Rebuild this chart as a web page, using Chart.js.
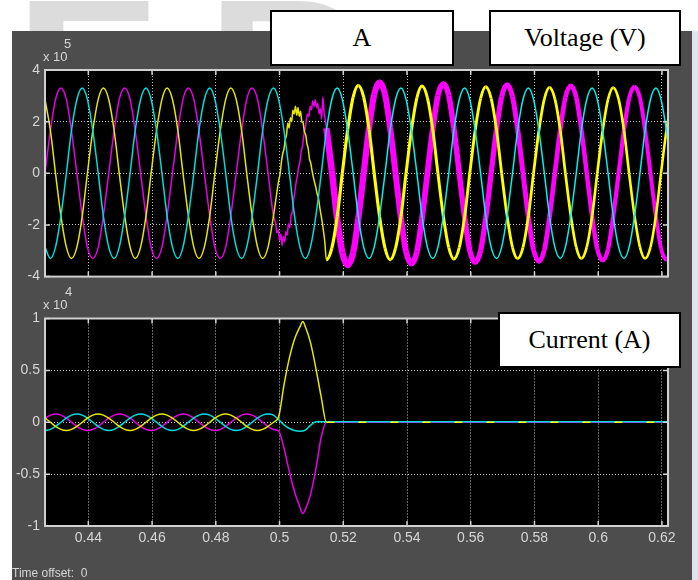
<!DOCTYPE html>
<html>
<head>
<meta charset="utf-8">
<script src="https://cdn.jsdelivr.net/npm/chart.js@4.4.1/dist/chart.umd.min.js"></script>
<style>
  html, body { margin: 0; padding: 0; background: #fff; }
  #page { position: relative; width: 698px; height: 580px; overflow: hidden; background: #fff; }
  .mark { position: absolute; font-family: "Liberation Sans", Arial, sans-serif; font-weight: bold; font-size: 180px; line-height: 1; color: #dcdcdc; transform-origin: left top; }
  #scope { position: absolute; left: 12px; top: 31px; width: 680px; height: 549px; background: #4d4d4d; }
  #edge { position: absolute; left: 692px; top: 31px; width: 6px; height: 549px; background: #dde4ec; }
  canvas { position: absolute; left: 12px; }
  .txt { position: absolute; color: #d6d6d6; font-family: "Liberation Sans Narrow", "Liberation Sans", sans-serif; white-space: nowrap; line-height: 1; }
  .box { position: absolute; background: #fff; border: 2px solid #000; box-sizing: border-box; font-family: "Liberation Serif", serif; font-size: 26px; color: #000; display: flex; align-items: center; justify-content: center; }
</style>
</head>
<body>
<div id="page">
  <div class="mark" style="left:14px; top:-27px; transform: scaleX(1.3);">F</div>
  <div class="mark" style="left:207px; top:-27px; transform: scaleX(1.2);">R</div>
  <div id="scope"></div>
  <div id="edge"></div>
  <canvas id="voltage" width="680" height="259" style="top:31px;"></canvas>
  <canvas id="current" width="680" height="290" style="top:290px;"></canvas>
  <div class="txt" style="left:43px; top:50px; font-size:13px;">x 10</div>
  <div class="txt" style="left:64px; top:37px; font-size:13px;">5</div>
  <div class="txt" style="left:43px; top:298px; font-size:13px;">x 10</div>
  <div class="txt" style="left:65px; top:285px; font-size:13px;">4</div>
  <div class="txt" style="left:12px; top:567px; font-size:12px;">Time offset:&nbsp; 0</div>
  <div class="box" style="left:270px; top:10px; width:184px; height:56px;">A</div>
  <div class="box" style="left:489px; top:10px; width:192px; height:56px;">Voltage (V)</div>
  <div class="box" style="left:498px; top:312px; width:183px; height:56px;">Current (A)</div>
</div>
<script>
// time axis (s)
const X_MIN = 0.4264;
const X_MAX = 0.6219;
const FAULT_END = 0.5145;

// sample times, 12 per 50 Hz cycle
const timeV = [
  0.4264, 0.4281, 0.4297, 0.4314, 0.4331, 0.4347, 0.4364, 0.4381, 0.4397, 0.4414, 0.4431, 0.4447,
  0.4464, 0.4481, 0.4497, 0.4514, 0.4531, 0.4547, 0.4564, 0.4581, 0.4597, 0.4614, 0.4631, 0.4647,
  0.4664, 0.4681, 0.4697, 0.4714, 0.4731, 0.4747, 0.4764, 0.4781, 0.4797, 0.4814, 0.4831, 0.4847,
  0.4864, 0.4881, 0.4897, 0.4914, 0.4931, 0.4947, 0.4964, 0.4981, 0.4997, 0.5014, 0.5031, 0.5047,
  0.5064, 0.5081, 0.5097, 0.5114, 0.5131, 0.5147, 0.5164, 0.5181, 0.5197, 0.5214, 0.5231, 0.5247,
  0.5264, 0.5281, 0.5297, 0.5314, 0.5331, 0.5347, 0.5364, 0.5381, 0.5397, 0.5414, 0.5431, 0.5447,
  0.5464, 0.5481, 0.5497, 0.5514, 0.5531, 0.5547, 0.5564, 0.5581, 0.5597, 0.5614, 0.5631, 0.5647,
  0.5664, 0.5681, 0.5697, 0.5714, 0.5731, 0.5747, 0.5764, 0.5781, 0.5797, 0.5814, 0.5831, 0.5847,
  0.5864, 0.5881, 0.5897, 0.5914, 0.5931, 0.5947, 0.5964, 0.5981, 0.5997, 0.6014, 0.6031, 0.6047,
  0.6064, 0.6081, 0.6097, 0.6114, 0.6131, 0.6147, 0.6164, 0.6181, 0.6197, 0.6214, 0.6231
];

// voltages (x1e5 V); null = replaced by the fault samples below
const voltA = [ // yellow
  2.86, 1.65, 0, -1.65, -2.86, -3.3, -2.86, -1.65, 0, 1.65, 2.86, 3.3,
  2.86, 1.65, 0, -1.65, -2.86, -3.3, -2.86, -1.65, 0, 1.65, 2.86, 3.3,
  2.86, 1.65, 0, -1.65, -2.86, -3.3, -2.86, -1.65, 0, 1.65, 2.86, 3.3,
  2.86, 1.65, 0, -1.65, -2.86, -3.3, -2.86, -1.65, null, null, null, null,
  null, null, null, null, null, -3.35, -2.9, -1.68, 0, 1.7, 2.95, 3.4,
  2.95, 1.7, 0, -1.68, -2.9, -3.35, -2.9, -1.68, 0, 1.68, 2.92, 3.38,
  2.92, 1.68, 0, -1.66, -2.88, -3.32, -2.88, -1.66, 0, 1.67, 2.9, 3.35,
  2.9, 1.67, 0, -1.65, -2.87, -3.3, -2.87, -1.65, 0, 1.66, 2.88, 3.33,
  2.88, 1.66, 0, -1.65, -2.86, -3.3, -2.86, -1.65, 0, 1.65, 2.87, 3.32,
  2.87, 1.65, 0, -1.65, -2.86, -3.3, -2.86, -1.65, 0, 1.65, 2.86
];
const voltB = [ // magenta
  0, 1.65, 2.86, 3.3, 2.86, 1.65, 0, -1.65, -2.86, -3.3, -2.86, -1.65,
  0, 1.65, 2.86, 3.3, 2.86, 1.65, 0, -1.65, -2.86, -3.3, -2.86, -1.65,
  0, 1.65, 2.86, 3.3, 2.86, 1.65, 0, -1.65, -2.86, -3.3, -2.86, -1.65,
  0, 1.65, 2.86, 3.3, 2.86, 1.65, 0, -1.65, null, null, null, null,
  null, null, null, null, null, 1.75, 0.1, -1.77, -3.07, -3.55, -3.07, -1.77,
  0, 1.76, 3.05, 3.52, 3.05, 1.76, 0, -1.75, -3.03, -3.5, -3.03, -1.75,
  0, 1.74, 3.01, 3.47, 3.01, 1.74, 0, -1.73, -2.99, -3.45, -2.99, -1.73,
  0, 1.72, 2.97, 3.43, 2.97, 1.72, 0, -1.71, -2.96, -3.41, -2.96, -1.71,
  0, 1.7, 2.94, 3.39, 2.94, 1.7, 0, -1.69, -2.93, -3.37, -2.93, -1.69,
  0, 1.68, 2.91, 3.35, 2.91, 1.68, 0, -1.67, -2.9, -3.34, -2.9
];
const voltC = [ // cyan
  -2.86, -3.3, -2.86, -1.65, 0, 1.65, 2.86, 3.3, 2.86, 1.65, 0, -1.65,
  -2.86, -3.3, -2.86, -1.65, 0, 1.65, 2.86, 3.3, 2.86, 1.65, 0, -1.65,
  -2.86, -3.3, -2.86, -1.65, 0, 1.65, 2.86, 3.3, 2.86, 1.65, 0, -1.65,
  -2.86, -3.3, -2.86, -1.65, 0, 1.65, 2.86, 3.3, 2.86, 1.65, 0, -1.65,
  -2.86, -3.3, -2.86, -1.65, 0, 1.65, 2.86, 3.3, 2.86, 1.65, 0, -1.65,
  -2.86, -3.3, -2.86, -1.65, 0, 1.65, 2.86, 3.3, 2.86, 1.65, 0, -1.65,
  -2.86, -3.3, -2.86, -1.65, 0, 1.65, 2.86, 3.3, 2.86, 1.65, 0, -1.65,
  -2.86, -3.3, -2.86, -1.65, 0, 1.65, 2.86, 3.3, 2.86, 1.65, 0, -1.65,
  -2.86, -3.3, -2.86, -1.65, 0, 1.65, 2.86, 3.3, 2.86, 1.65, 0, -1.65,
  -2.86, -3.3, -2.86, -1.65, 0, 1.65, 2.86, 3.3, 2.86, 1.65, 0
];

// noisy stretch during the fault
const faultTimeA = [
  0.4997, 0.5002, 0.5006, 0.5010, 0.5014, 0.5018, 0.5022, 0.5026, 0.5030, 0.5034, 0.5038, 0.5042, 0.5046,
  0.5050, 0.5054, 0.5058, 0.5062, 0.5066, 0.5070, 0.5074, 0.5078, 0.5082, 0.5086, 0.5090, 0.5094, 0.5098,
  0.5102, 0.5106, 0.5110, 0.5114, 0.5118, 0.5122, 0.5126, 0.5130, 0.5134, 0.5138, 0.5142
];
const faultVoltA = [
  -0.3, 0.0, 0.45, 0.75, 0.95, 1.3, 1.5, 1.95, 1.75, 2.15, 2.0, 2.45, 2.3,
  2.6, 2.25, 2.55, 2.2, 2.4, 2.0, 1.95, 1.6, 1.5, 1.15, 0.95, 0.55, 0.4,
  0.1, -0.15, -0.35, -0.55, -0.8, -0.95, -1.3, -1.6, -1.9, -2.25, -2.65
];
const faultTimeB = [
  0.4988, 0.4992, 0.4996, 0.5000, 0.5004, 0.5008, 0.5012, 0.5016, 0.5020, 0.5024, 0.5028, 0.5032, 0.5036,
  0.5040, 0.5044, 0.5048, 0.5052, 0.5056, 0.5060, 0.5064, 0.5068, 0.5072, 0.5076, 0.5080, 0.5084, 0.5088,
  0.5092, 0.5096, 0.5100, 0.5104, 0.5108, 0.5112, 0.5116, 0.5120, 0.5124, 0.5128, 0.5132, 0.5136, 0.5140, 0.5144
];
const faultVoltB = [
  -1.95, -2.3, -2.2, -2.6, -2.35, -2.8, -2.45, -2.65, -2.25, -2.4, -1.95, -2.1, -1.65,
  -1.5, -1.05, -0.7, -0.35, -0.1, 0.25, 0.45, 0.85, 1.05, 1.45, 1.7, 2.05, 2.3,
  2.2, 2.6, 2.45, 2.8, 2.6, 2.85, 2.55, 2.7, 2.3, 2.5, 2.1, 2.95, 2.35, 2.05
];

// currents (x1e4 A), up to t = 0.5147, then flat to the end
const timeI = timeV.slice(0, 54).concat([0.6231]);
const curA = [ // yellow
  0.04, 0, -0.04, -0.069, -0.08, -0.069, -0.04, 0, 0.04, 0.069, 0.08, 0.069,
  0.04, 0, -0.04, -0.069, -0.08, -0.069, -0.04, 0, 0.04, 0.069, 0.08, 0.069,
  0.04, 0, -0.04, -0.069, -0.08, -0.069, -0.04, 0, 0.04, 0.069, 0.08, 0.069,
  0.04, 0, -0.04, -0.069, -0.08, -0.069, -0.04, 0, 0.05, 0.36, 0.62, 0.8,
  0.92, 0.92, 0.77, 0.52, 0.24, 0, 0
];
const curB = [ // magenta
  0.04, 0.069, 0.08, 0.069, 0.04, 0, -0.04, -0.069, -0.08, -0.069, -0.04, 0,
  0.04, 0.069, 0.08, 0.069, 0.04, 0, -0.04, -0.069, -0.08, -0.069, -0.04, 0,
  0.04, 0.069, 0.08, 0.069, 0.04, 0, -0.04, -0.069, -0.08, -0.069, -0.04, 0,
  0.04, 0.069, 0.08, 0.069, 0.04, 0, -0.04, -0.069, -0.085, -0.25, -0.48, -0.67,
  -0.82, -0.84, -0.7, -0.45, -0.14, 0, 0
];
const curC = [ // cyan
  -0.08, -0.069, -0.04, 0, 0.04, 0.069, 0.08, 0.069, 0.04, 0, -0.04, -0.069,
  -0.08, -0.069, -0.04, 0, 0.04, 0.069, 0.08, 0.069, 0.04, 0, -0.04, -0.069,
  -0.08, -0.069, -0.04, 0, 0.04, 0.069, 0.08, 0.069, 0.04, 0, -0.04, -0.069,
  -0.08, -0.069, -0.04, 0, 0.04, 0.069, 0.08, 0.069, 0.025, -0.025, -0.06, -0.08,
  -0.087, -0.075, -0.03, 0.005, 0.005, 0.005, 0.005
];
// tips of the fault current pulses
const spikeTime = [0.5073];
const spikeA = [0.97];
const spikeB = [-0.88];

const YELLOW = '#e6e600', MAGENTA = '#e600e6', CYAN = '#00dcdc';
const LABEL_FONT = { family: "'Liberation Sans Narrow', 'Liberation Sans', sans-serif", size: 14 };

const toPoints = (times, vals) =>
  times.map((t, i) => ({ x: t, y: vals[i] })).filter(p => p.y !== null);
const withFault = (base, extra) => base.concat(extra).sort((a, b) => a.x - b.x);
const fmt = v => String(+Number(v).toFixed(2));

// black plot area, solid frame and inward ticks like the scope
const scopeFrame = {
  id: 'scopeFrame',
  beforeDraw(chart) {
    const { ctx, chartArea: a } = chart;
    ctx.save();
    ctx.fillStyle = '#000';
    ctx.fillRect(a.left, a.top, a.right - a.left, a.bottom - a.top);
    ctx.restore();
  },
  afterDraw(chart) {
    const { ctx, chartArea: a, scales } = chart;
    ctx.save();
    ctx.strokeStyle = '#d0d0d0';
    ctx.lineWidth = 2;
    ctx.strokeRect(a.left, a.top, a.right - a.left, a.bottom - a.top);
    ctx.lineWidth = 1.5;
    ctx.beginPath();
    scales.x.ticks.forEach(t => {
      const px = scales.x.getPixelForValue(t.value);
      ctx.moveTo(px, a.bottom); ctx.lineTo(px, a.bottom - 5);
      ctx.moveTo(px, a.top); ctx.lineTo(px, a.top + 5);
    });
    scales.y.ticks.forEach(t => {
      const py = scales.y.getPixelForValue(t.value);
      ctx.moveTo(a.left, py); ctx.lineTo(a.left + 5, py);
      ctx.moveTo(a.right, py); ctx.lineTo(a.right - 5, py);
    });
    ctx.stroke();
    ctx.restore();
  }
};

function scopeOptions(yMin, yMax, yStep, padding, showX) {
  return {
    responsive: false,
    animation: false,
    devicePixelRatio: 1,
    layout: { padding },
    plugins: { legend: { display: false }, tooltip: { enabled: false } },
    elements: {
      point: { radius: 0 },
      line: { cubicInterpolationMode: 'monotone', borderWidth: 1.5 }
    },
    scales: {
      x: {
        type: 'linear', min: X_MIN, max: X_MAX,
        ticks: { display: showX, stepSize: 0.02, includeBounds: false, color: '#d6d6d6', font: LABEL_FONT, padding: 4, maxRotation: 0, callback: fmt },
        grid: { color: '#c4c4c4', lineWidth: 1, drawTicks: false },
        border: { display: false, dash: [1, 2] },
        afterFit: s => { s.height = showX ? 20 : 0; }
      },
      y: {
        min: yMin, max: yMax,
        ticks: { stepSize: yStep, color: '#d6d6d6', font: LABEL_FONT, padding: 5, callback: fmt },
        grid: { color: '#c4c4c4', lineWidth: 1, drawTicks: false },
        border: { display: false, dash: [1, 2] },
        afterFit: s => { s.width = 33; }
      }
    }
  };
}

const after = c => c.p0.parsed.x >= FAULT_END;

new Chart(document.getElementById('voltage'), {
  type: 'line',
  data: {
    datasets: [
      {
        data: toPoints(timeV, voltC), borderColor: CYAN,
        segment: { borderColor: c => after(c) ? '#00f0f0' : CYAN }
      },
      {
        data: withFault(toPoints(timeV, voltA), toPoints(faultTimeA, faultVoltA)), borderColor: YELLOW,
        segment: {
          borderColor: c => after(c) ? '#ffff00' : YELLOW,
          borderWidth: c => after(c) ? 3.2 - (c.p0.parsed.x - FAULT_END) * 6 : 1.5
        }
      },
      {
        data: withFault(toPoints(timeV, voltB), toPoints(faultTimeB, faultVoltB)), borderColor: MAGENTA,
        segment: {
          borderColor: c => after(c) ? '#ff00ff' : MAGENTA,
          borderWidth: c => after(c) ? 6.5 - (c.p0.parsed.x - FAULT_END) * 25 : 1.5
        }
      }
    ]
  },
  options: scopeOptions(-4, 4, 2, { top: 39, right: 24, bottom: 12.5, left: 0 }, false),
  plugins: [scopeFrame]
});

new Chart(document.getElementById('current'), {
  type: 'line',
  data: {
    datasets: [
      {
        data: withFault(toPoints(timeI, curA), toPoints(spikeTime, spikeA)), borderColor: YELLOW,
        segment: { borderDash: c => after(c) ? [8, 24] : undefined, borderColor: c => after(c) ? '#ffff00' : YELLOW }
      },
      { data: toPoints(timeI, curC), borderColor: CYAN },
      { data: withFault(toPoints(timeI, curB), toPoints(spikeTime, spikeB)), borderColor: MAGENTA }
    ]
  },
  options: scopeOptions(-1, 1, 0.5, { top: 28.5, right: 24, bottom: 34, left: 0 }, true),
  plugins: [scopeFrame]
});
</script>
</body>
</html>
